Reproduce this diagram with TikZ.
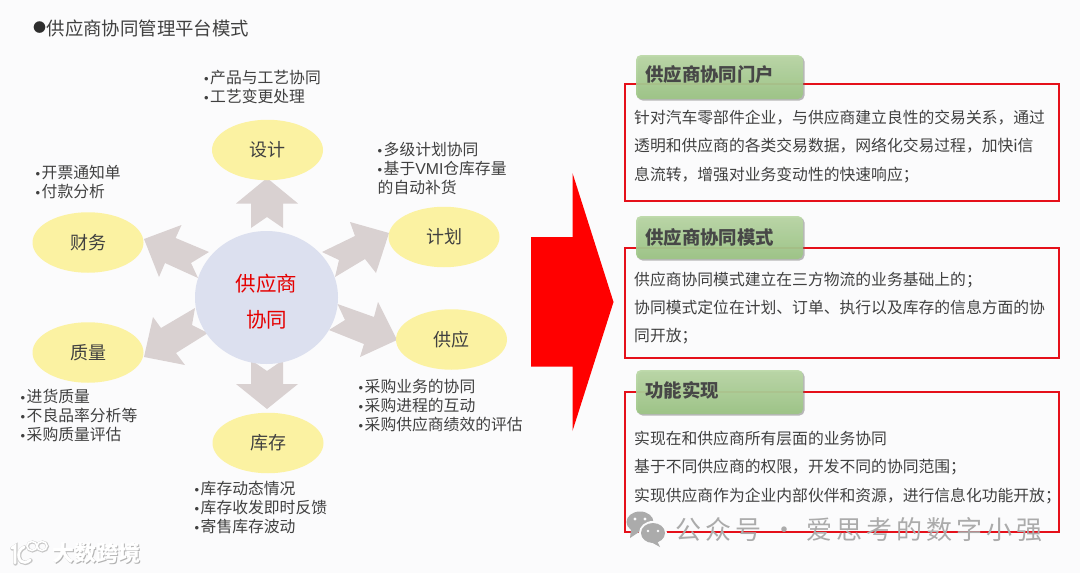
\documentclass[tikz,border=0pt]{standalone}
\usepackage{fontspec}
\usetikzlibrary{shadows,shapes.geometric}
\setmainfont{Noto Sans CJK SC}
\newfontfamily\markfont[LetterSpace=15]{Noto Sans CJK SC}
\newfontfamily\bulfont{Liberation Sans}
\definecolor{bgc}{HTML}{FBFBFC}
\definecolor{txt}{HTML}{404040}
\definecolor{yel}{HTML}{FBF2A2}
\definecolor{cir}{HTML}{DCE0EF}
\definecolor{arr}{HTML}{D9D1D1}
\definecolor{bred}{HTML}{E5101A}
\definecolor{tabtop}{HTML}{BAD8A6}
\definecolor{tabbot}{HTML}{9CC584}
\tikzset{
  sat/.style={ellipse,fill=yel,minimum width=111pt,minimum height=60.5pt,inner sep=0pt,text=txt,font=\fontsize{18}{20}\selectfont},
  listtext/.style={anchor=west,align=left,inner sep=0pt,text=txt,font=\fontsize{15.8}{19}\selectfont},
  bodytext/.style={anchor=west,align=left,inner sep=0pt,text=txt,font=\fontsize{15.8}{28.4}\selectfont},
  blockarrow/.style={fill=arr,draw=none},
  framebox/.style={draw=bred,line width=2pt,fill=none},
  tab/.style={rounded corners=5pt,top color=tabtop,bottom color=tabbot,draw=none,fill opacity=.92,
     drop shadow={shadow xshift=1.5pt,shadow yshift=-1.5pt,opacity=.45,fill=black!60}},
  tabtext/.style={anchor=west,inner sep=0pt,text=black!72,font=\fontsize{18.4}{20}\selectfont\bfseries},
  wmicon/.style={fill=black!33},
  logoline/.style={line width=2.8pt,line cap=round,fill=none},
  logoring/.style={line width=1.6pt,fill=none},
}
\newcommand{\bul}{\makebox[6pt][l]{\bulfont\fontsize{13}{13}\selectfont •}}
\begin{document}
\begin{tikzpicture}[x=1pt,y=-1pt]
\useasboundingbox (0,0) rectangle (1080,573);
\fill[bgc] (0,0) rectangle (1080,573);
% title
\node[anchor=center,inner sep=0pt,text=txt!70!black,font=\fontsize{13}{13}\selectfont] (tbullet) at (39.5,28) {●};
\node[anchor=west,inner sep=0pt,text=txt,font=\fontsize{18.4}{20}\selectfont] (title) at (46.5,28) {供应商协同管理平台模式};
% block arrows
\fill[blockarrow] (267,178) -- (298,203.5) -- (283,203.5) -- (283,228) -- (267,217) -- (251,228) -- (251,203.5) -- (236,203.5) -- cycle;
\fill[blockarrow] (267,409) -- (298,384) -- (283,384) -- (283,360) -- (267,371) -- (251,360) -- (251,384) -- (236,384) -- cycle;
\fill[blockarrow] (144,239) -- (181.5,225) -- (175.6,238) -- (209,252) -- (191,263) -- (198,278) -- (165,263) -- (159,277) -- cycle;
\fill[blockarrow] (389,233) -- (350,222) -- (355,236) -- (322,252) -- (339,260) -- (335,277) -- (365,259) -- (376,273) -- cycle;
\fill[blockarrow] (144,357) -- (153,317) -- (161,328) -- (195,308) -- (192,325) -- (208,333) -- (176,353) -- (185,365) -- cycle;
\fill[blockarrow] (397,340) -- (378,302) -- (374,317) -- (337.5,304) -- (345,320) -- (329,330) -- (364,344) -- (360,357) -- cycle;
% centre
\node[ellipse,fill=cir,minimum width=143pt,minimum height=133pt,inner sep=0pt] (hub) at (266.5,297.5) {};
\node[inner sep=0pt,text=red!90!black,font=\fontsize{20.5}{36}\selectfont,align=center] (hubtext) at (266.5,301.5) {供应商\\协同};
% satellites
\node[sat] (sheji) at (267.5,150) {设计};
\node[sat] (caiwu) at (88,242.5) {财务};
\node[sat] (jihua) at (444,237) {计划};
\node[sat] (zhiliang) at (88,352.5) {质量};
\node[sat] (gongying) at (451.5,339.5) {供应};
\node[sat] (kucun) at (268,443) {库存};
% lists
\node[listtext] (l1) at (204,87.5) {\bul 产品与工艺协同\\\bul 工艺变更处理};
\node[listtext] (l2) at (377.5,168) {\bul 多级计划协同\\\bul 基于{\bulfont VMI}仓库存量\\的自动补货};
\node[listtext] (l3) at (35.5,182.5) {\bul 开票通知单\\\bul 付款分析};
\node[listtext] (l4) at (20.5,415) {\bul 进货质量\\\bul 不良品率分析等\\\bul 采购质量评估};
\node[listtext] (l5) at (358.5,405.5) {\bul 采购业务的协同\\\bul 采购进程的互动\\\bul 采购供应商绩效的评估};
\node[listtext] (l6) at (194.5,507) {\bul 库存动态情况\\\bul 库存收发即时反馈\\\bul 寄售库存波动};
% big arrow
\fill[red] (531,237) -- (572.5,237) -- (572.5,173) -- (613.5,302) -- (572.5,431) -- (572.5,366.5) -- (531,366.5) -- cycle;
% frames
\draw[framebox] (624.5,83.5) rectangle (1058.5,200.5);
\draw[framebox] (624.5,247.5) rectangle (1058.5,358);
\draw[framebox] (624.5,391.5) rectangle (1058.5,531.5);
% tabs
\path[tab] (636,55) rectangle (803,99);
\path[tab] (636,216) rectangle (803,259);
\path[tab] (636,370) rectangle (803,414);
\node[tabtext] (t1) at (645,74.5) {供应商协同门户};
\node[tabtext] (t2) at (645,237) {供应商协同模式};
\node[tabtext] (t3) at (645,390) {功能实现};
% bodies
\node[bodytext] (b1) at (634,146.5) {针对汽车零部件企业，与供应商建立良性的交易关系，通过\\透明和供应商的各类交易数据，网络化交易过程，加快i信\\息流转，增强对业务变动性的快速响应；};
\node[bodytext] (b2) at (634,308) {供应商协同模式建立在三方物流的业务基础上的；\\协同模式定位在计划、订单、执行以及库存的信息方面的协\\同开放；};
\node[bodytext] (b3) at (634,467.5) {实现在和供应商所有层面的业务协同\\基于不同供应商的权限，开发不同的协同范围；\\实现供应商作为企业内部伙伴和资源，进行信息化功能开放；};
% watermark, right
\fill[wmicon] (640,522) ellipse (13.5pt and 10.5pt);
\fill[wmicon] (631,529) -- (630,538) -- (639,532) -- cycle;
\fill[bgc] (653,533) ellipse (14pt and 12pt);
\fill[wmicon] (653,533) ellipse (12pt and 10pt);
\fill[wmicon] (657,541) -- (660,547) -- (651,542) -- cycle;
\fill[bgc] (635,519) circle (1.6pt) (645,519) circle (1.6pt) (648,531) circle (1.3pt) (658,531) circle (1.3pt);
\node[anchor=west,inner sep=0pt,text=black!33,font=\markfont\fontsize{26}{28}\selectfont] (wm1) at (675.5,530) {公众号 · 爱思考的数字小强};
% watermark, left
\begin{scope}[draw=black!22]
\draw[logoline,line width=4.4pt] (12.5,548.5) -- (15.5,546.5) -- (15.5,563.5);
\draw[logoline,line width=4.4pt] (30.5,560.5) .. controls (23.5,566.5) and (17.5,560.5) .. (19.5,552.5) .. controls (20.5,549.5) and (22.5,548.5) .. (24.5,547.5);
\draw[logoring,line width=3pt] (32.5,546.5) ellipse (5pt and 4.5pt) (42.5,546.5) ellipse (5pt and 4.5pt);
\end{scope}
\begin{scope}[draw=white]
\draw[logoline] (12,548) -- (15,546) -- (15,563);
\draw[logoline] (30,560) .. controls (23,566) and (17,560) .. (19,552) .. controls (20,549) and (22,548) .. (24,547);
\draw[logoring] (32,546) ellipse (5pt and 4.5pt) (42,546) ellipse (5pt and 4.5pt);
\end{scope}
\node[anchor=west,inner sep=0pt,text=black!30,font=\fontsize{22}{24}\selectfont\bfseries] (wm2s) at (52.8,554) {大数跨境};
\node[anchor=west,inner sep=0pt,text=white,font=\fontsize{22}{24}\selectfont\bfseries] (wm2) at (52,553) {大数跨境};
\end{tikzpicture}
\end{document}
